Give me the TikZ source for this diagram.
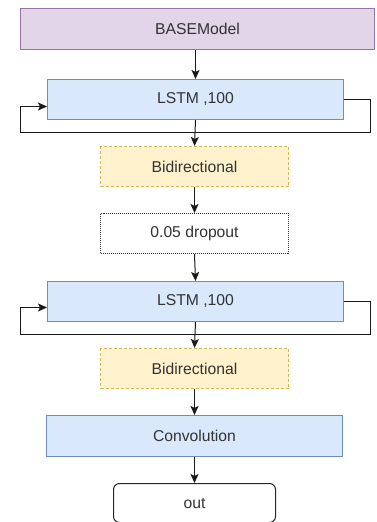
\documentclass[tikz,border=0pt]{standalone}
\usepackage{fontspec}
\setmainfont{Liberation Sans}
\usetikzlibrary{arrows.meta}
\definecolor{purfill}{HTML}{E1D5E7}
\definecolor{purline}{HTML}{9673A6}
\definecolor{bluefill}{HTML}{DAE8FC}
\definecolor{blueline}{HTML}{6C8EBF}
\definecolor{yelfill}{HTML}{FFF2CC}
\definecolor{yelline}{HTML}{D6B656}
\definecolor{txt}{HTML}{333333}
\tikzset{
  box/.style={draw, line width=1pt, inner sep=0pt, text=txt,
    font=\fontsize{15.7}{18}\selectfont, anchor=north west},
  basebox/.style={box, fill=purfill, draw=purline},
  lstmbox/.style={box, fill=bluefill, draw=blueline},
  bidibox/.style={box, fill=yelfill, draw=yelline, dashed, dash pattern=on 3pt off 2pt},
  dropbox/.style={box, fill=white, draw=black!80, dash pattern=on 1pt off 1pt},
  outbox/.style={box, fill=white, draw=black!85, rounded corners=6pt},
  arr/.style={-{Stealth[length=9pt,width=8pt,inset=2pt]}, line width=1pt, draw=black!90},
}
\begin{document}
\begin{tikzpicture}[x=1pt,y=-1pt]
\useasboundingbox[fill=white] (0,0) rectangle (376,522);
\node[basebox, minimum width=354pt, minimum height=41pt] (base) at (20,8) {BASEModel};
\node[lstmbox, minimum width=296pt, minimum height=40pt] (l1) at (47,79) {LSTM ,100};
\node[bidibox, minimum width=188pt, minimum height=40pt] (b1) at (100,146) {Bidirectional};
\node[dropbox, minimum width=188pt, minimum height=40pt] (d) at (100,213) {0.05 dropout};
\node[lstmbox, minimum width=296pt, minimum height=40pt] (l2) at (47,281) {LSTM ,100};
\node[bidibox, minimum width=188pt, minimum height=40pt] (b2) at (100,348) {Bidirectional};
\node[lstmbox, minimum width=296pt, minimum height=41pt] (c) at (46,415) {Convolution};
\node[outbox, minimum width=162pt, minimum height=39pt] (o) at (113,483) {out};
\coordinate (r1) at (370,132);
\coordinate (q1) at (20,132);
\coordinate (r2) at (370,334);
\coordinate (q2) at (20,334);
\draw[arr] (base.south -| l1.north) -- (l1.north);
\draw[arr] (l1.south) -- (b1.north);
\draw[arr] (b1.south) -- (d.north);
\draw[arr] (d.south) -- (l2.north);
\draw[arr] (l2.south) -- (b2.north);
\draw[arr] (b2.south) -- (c.north -| b2.south);
\draw[arr] (c.south -| o.north) -- (o.north);
\draw[arr] (l1.east) -| (r1) -- (q1) |- ([yshift=-7pt]l1.west);
\draw[arr] (l2.east) -| (r2) -- (q2) |- ([yshift=-6pt]l2.west);
\end{tikzpicture}
\end{document}
